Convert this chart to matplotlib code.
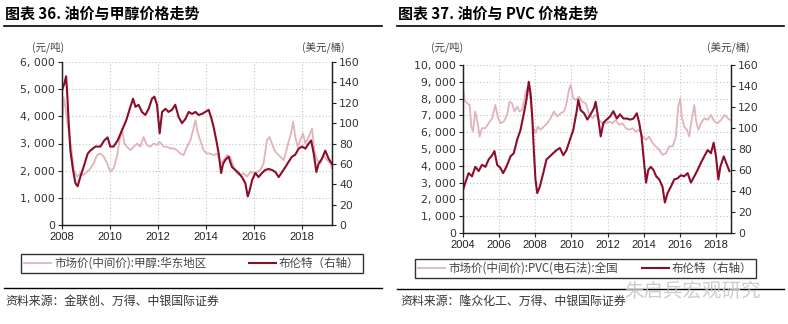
import matplotlib
matplotlib.use("Agg")
import matplotlib.pyplot as plt
from matplotlib.lines import Line2D

plt.rcParams['font.family'] = ['Noto Sans CJK SC', 'DejaVu Sans']

# ---------------- data: chart 36 (methanol vs Brent) ----------------
m_brent_t = [2008.00, 2008.10, 2008.17, 2008.21, 2008.28, 2008.35, 2008.46, 2008.56, 2008.65, 2008.76,
             2008.90, 2009.07, 2009.18, 2009.39, 2009.60, 2009.76, 2009.90, 2010.01, 2010.15, 2010.32,
             2010.50, 2010.68, 2010.85, 2010.96, 2011.06, 2011.19, 2011.33, 2011.47, 2011.61, 2011.75,
             2011.85, 2011.96, 2012.07, 2012.17, 2012.31, 2012.44, 2012.58, 2012.72, 2012.86, 2013.00,
             2013.14, 2013.28, 2013.42, 2013.56, 2013.69, 2013.83, 2013.97, 2014.11, 2014.21, 2014.32,
             2014.43, 2014.53, 2014.63, 2014.71, 2014.81, 2014.94, 2015.08, 2015.22, 2015.36, 2015.50,
             2015.64, 2015.74, 2015.82, 2015.92, 2016.06, 2016.19, 2016.33, 2016.47, 2016.61, 2016.75,
             2016.89, 2017.03, 2017.17, 2017.31, 2017.44, 2017.58, 2017.72, 2017.86, 2018.00, 2018.14,
             2018.28, 2018.38, 2018.49, 2018.60, 2018.69, 2018.83, 2018.97, 2019.11, 2019.25]
m_brent_v = [132, 139, 146, 132, 100, 73, 54, 41, 38, 47,
             57, 70, 73, 77, 77, 83, 86, 77, 77, 83,
             93, 103, 116, 124, 116, 118, 111, 108, 114, 124,
             126, 118, 90, 111, 114, 111, 113, 118, 106, 100,
             104, 111, 109, 111, 108, 109, 111, 113, 106, 96,
             83, 70, 51, 60, 64, 67, 57, 54, 51, 47,
             41, 28, 34, 44, 51, 47, 51, 54, 55, 54,
             52, 47, 52, 57, 62, 67, 69, 75, 77, 75,
             80, 83, 70, 52, 60, 65, 73, 65, 60]

meth_t = [2008.00, 2008.07, 2008.14, 2008.21, 2008.28, 2008.38, 2008.49, 2008.63, 2008.76, 2008.90,
          2009.04, 2009.18, 2009.32, 2009.46, 2009.60, 2009.74, 2009.88, 2010.01, 2010.15, 2010.29,
          2010.40, 2010.50, 2010.60, 2010.71, 2010.85, 2010.99, 2011.13, 2011.26, 2011.40, 2011.54,
          2011.68, 2011.82, 2011.96, 2012.07, 2012.24, 2012.38, 2012.51, 2012.65, 2012.79, 2012.93,
          2013.07, 2013.21, 2013.35, 2013.46, 2013.56, 2013.65, 2013.76, 2013.90, 2014.04, 2014.18,
          2014.32, 2014.46, 2014.60, 2014.74, 2014.88, 2015.01, 2015.15, 2015.29, 2015.43, 2015.57,
          2015.71, 2015.85, 2015.99, 2016.13, 2016.26, 2016.40, 2016.54, 2016.65, 2016.75, 2016.85,
          2016.96, 2017.10, 2017.24, 2017.35, 2017.46, 2017.54, 2017.63, 2017.72, 2017.82, 2017.93,
          2018.04, 2018.14, 2018.28, 2018.42, 2018.51, 2018.63, 2018.76, 2018.90, 2019.04, 2019.18,
          2019.25]
meth_v = [3670, 4700, 4350, 3860, 3430, 2880, 2020, 1780, 1900, 1840,
          1960, 2080, 2270, 2570, 2630, 2510, 2270, 1960, 2080, 2510,
          3120, 3550, 3000, 2880, 2750, 2880, 3000, 2880, 3240, 2940,
          2880, 3000, 2940, 3060, 2880, 2880, 2820, 2820, 2750, 2630,
          2570, 2880, 3120, 3490, 3860, 3430, 3120, 2750, 2630, 2630,
          2570, 2630, 2270, 2390, 2570, 2510, 2140, 1900, 1840, 1900,
          1780, 1960, 1900, 1960, 2020, 2270, 3120, 3240, 3000, 2750,
          2630, 2510, 2390, 2750, 3120, 3370, 3800, 3240, 2880, 3120,
          3370, 3000, 3240, 3550, 2750, 2390, 2270, 2570, 2390, 2270,
          2080]

# ---------------- data: chart 37 (PVC vs Brent) ----------------
p_brent_t = [2004.00, 2004.13, 2004.31, 2004.50, 2004.68, 2004.87, 2005.05, 2005.24, 2005.42, 2005.61,
             2005.74, 2005.89, 2006.07, 2006.22, 2006.40, 2006.63, 2006.81, 2007.00, 2007.18, 2007.37,
             2007.51, 2007.64, 2007.74, 2007.83, 2007.92, 2008.01, 2008.11, 2008.25, 2008.44, 2008.62,
             2008.81, 2008.99, 2009.18, 2009.36, 2009.55, 2009.73, 2009.92, 2010.10, 2010.29, 2010.38,
             2010.51, 2010.70, 2010.88, 2011.06, 2011.25, 2011.34, 2011.47, 2011.62, 2011.77, 2011.95,
             2012.14, 2012.32, 2012.51, 2012.69, 2012.88, 2013.06, 2013.25, 2013.43, 2013.62, 2013.75,
             2013.88, 2014.02, 2014.13, 2014.25, 2014.39, 2014.54, 2014.69, 2014.86, 2015.04, 2015.17,
             2015.32, 2015.50, 2015.69, 2015.87, 2016.06, 2016.24, 2016.43, 2016.61, 2016.80, 2016.98,
             2017.17, 2017.35, 2017.54, 2017.72, 2017.87, 2018.00, 2018.13, 2018.24, 2018.43, 2018.56,
             2018.74]
p_brent_v = [41, 48, 57, 54, 63, 59, 65, 63, 70, 74,
             78, 65, 62, 57, 63, 73, 76, 89, 98, 114,
             127, 144, 133, 111, 79, 51, 38, 44, 57, 70,
             73, 76, 79, 81, 74, 79, 89, 98, 116, 127,
             117, 114, 108, 113, 119, 125, 111, 92, 105, 108,
             111, 116, 109, 113, 109, 109, 108, 109, 114, 105,
             92, 67, 48, 60, 63, 60, 54, 51, 44, 29,
             38, 44, 51, 52, 55, 54, 57, 48, 54, 60,
             67, 73, 79, 76, 86, 73, 51, 63, 73, 67,
             59]

pvc_t = [2004.00, 2004.09, 2004.22, 2004.37, 2004.46, 2004.55, 2004.68, 2004.81, 2004.92, 2005.05,
         2005.24, 2005.42, 2005.61, 2005.79, 2005.92, 2006.07, 2006.26, 2006.44, 2006.57, 2006.72,
         2006.85, 2007.00, 2007.14, 2007.27, 2007.46, 2007.59, 2007.74, 2007.88, 2008.01, 2008.14,
         2008.29, 2008.48, 2008.66, 2008.85, 2009.03, 2009.22, 2009.40, 2009.59, 2009.73, 2009.86,
         2009.96, 2010.10, 2010.23, 2010.42, 2010.60, 2010.79, 2010.97, 2011.16, 2011.34, 2011.53,
         2011.71, 2011.90, 2012.08, 2012.27, 2012.45, 2012.64, 2012.82, 2013.01, 2013.19, 2013.38,
         2013.56, 2013.75, 2013.93, 2014.12, 2014.30, 2014.49, 2014.67, 2014.86, 2015.04, 2015.23,
         2015.41, 2015.60, 2015.78, 2015.91, 2016.02, 2016.10, 2016.24, 2016.39, 2016.52, 2016.65,
         2016.80, 2016.89, 2017.02, 2017.17, 2017.35, 2017.54, 2017.72, 2017.91, 2018.09, 2018.28,
         2018.46, 2018.65, 2018.78]
pvc_v = [8710, 7920, 7720, 7620, 6340, 6040, 7230, 6530, 5740, 6240,
         6240, 6530, 6830, 7620, 6930, 6530, 6630, 7030, 7820, 7720,
         7230, 7520, 7230, 7330, 8320, 8710, 7920, 6340, 5940, 6340,
         6140, 6340, 6530, 6830, 7230, 6930, 7130, 7230, 7720, 8510,
         8810, 8020, 7920, 8120, 7820, 7720, 7130, 6830, 7030, 6730,
         6530, 6530, 6630, 6530, 6730, 6440, 6530, 6240, 6140, 6240,
         6040, 6140, 5740, 5540, 5740, 5350, 5150, 4950, 4650, 4750,
         5150, 5150, 5740, 7520, 8020, 6930, 6340, 6140, 5740, 6730,
         7620, 6730, 6140, 6530, 6830, 6730, 7030, 6630, 6530, 6730,
         7030, 6830, 6730]

m_xticks = [2008, 2010, 2012, 2014, 2016, 2018]
p_xticks = [2004, 2006, 2008, 2010, 2012, 2014, 2016, 2018]

PINK = '#E2B3B8'
DARK = '#8C0D2A'
GRID = '#C4C4C4'

W, H = 788, 324
fig = plt.figure(figsize=(W / 100, H / 100), dpi=100)


def fx(px):
    return px / W


def fy(py):
    return 1 - py / H


def make_panel(left, top, right, bottom, t1, v1, t2, v2, xticks, xlim, ymax1, ystep1, label1):
    ax = fig.add_axes([fx(left), fy(bottom), fx(right - left), fy(top) - fy(bottom)])
    ax2 = ax.twinx()
    ax.plot(t1, v1, color=PINK, lw=1.3, label=label1)
    ax2.plot(t2, v2, color=DARK, lw=1.5, label='布伦特（右轴）')
    ax.set_xlim(*xlim)
    ax.set_ylim(0, ymax1)
    ax2.set_ylim(0, 160)
    yt = list(range(0, ymax1 + 1, ystep1))
    ax.set_yticks(yt)
    ax.set_yticklabels([f'{v:,}'.replace(',', ', ') for v in yt], family='DejaVu Sans')
    ax2.set_yticks(range(0, 161, 20))
    ax2.set_yticklabels([str(v) for v in range(0, 161, 20)], family='DejaVu Sans')
    ax.set_xticks(xticks)
    ax.set_xticklabels([str(x) for x in xticks], family='Liberation Sans', fontsize=8)
    ax.grid(True, color=GRID, ls=(0, (1, 2)), lw=0.8)
    for a in (ax, ax2):
        a.spines['top'].set_visible(False)
        for s in ('left', 'right', 'bottom'):
            a.spines[s].set_color('#222222')
            a.spines[s].set_linewidth(0.9)
        a.tick_params(colors='#222222', length=3, width=0.8, pad=2)
        a.tick_params(axis='y', labelsize=7.8, labelcolor='#333333')
    ax.tick_params(axis='x', labelcolor='#222222')
    return ax, ax2


# ---- panel 36 ----
ax_a, ax_a2 = make_panel(62, 62, 332, 225, meth_t, meth_v, m_brent_t, m_brent_v,
                         m_xticks, (2008, 2019.25), 6000, 1000, '市场价(中间价):甲醇:华东地区')
# ---- panel 37 ----
ax_b, ax_b2 = make_panel(463, 65, 731, 233, pvc_t, pvc_v, p_brent_t, p_brent_v,
                         p_xticks, (2004, 2018.83), 10000, 1000, '市场价(中间价):PVC(电石法):全国')

# titles
fig.text(fx(5), fy(14), '图表 36. 油价与甲醇价格走势', fontsize=10.8, fontweight='bold', va='center', ha='left')
fig.text(fx(398), fy(14), '图表 37. 油价与 PVC 价格走势', fontsize=10.8, fontweight='bold', va='center', ha='left')
fig.add_artist(Line2D([fx(4), fx(382)], [fy(26), fy(26)], color='black', lw=1.2))
fig.add_artist(Line2D([fx(397), fx(784)], [fy(26), fy(26)], color='black', lw=1.2))

# unit labels
for x, s in [(48, '(元/吨)'), (323, '(美元/桶)'), (447, '(元/吨)'), (728, '(美元/桶)')]:
    fig.text(fx(x), fy(47), s, fontsize=7.6, ha='center', va='center', color='#444444')

# legends (boxes stretched to the reference frame extents)
for axp, axs, l, t, r, b in [(ax_a, ax_a2, 21, 254, 363, 273), (ax_b, ax_b2, 415, 258, 756, 279)]:
    h1, l1 = axp.get_legend_handles_labels()
    h2, l2 = axs.get_legend_handles_labels()
    leg = fig.legend(h1 + h2, l1 + l2, loc='center', mode='expand',
                     bbox_to_anchor=(fx(l), fy(b), fx(r - l), fy(t) - fy(b)),
                     ncol=2, fontsize=8.3, frameon=True, fancybox=False, handlelength=2.3,
                     handletextpad=0.3, borderpad=0.3, borderaxespad=0,
                     labelcolor='#444444')
    leg.get_frame().set_edgecolor('black')
    leg.get_frame().set_linewidth(1.0)

# bottom rules and sources
fig.add_artist(Line2D([fx(4), fx(382)], [fy(288), fy(288)], color='black', lw=1.0))
fig.add_artist(Line2D([fx(397), fx(784)], [fy(289), fy(289)], color='black', lw=1.0))
fig.text(fx(5), fy(301), '资料来源：金联创、万得、中银国际证券', fontsize=8.6, ha='left', va='center',
         color='#333333', style='italic')
fig.text(fx(400), fy(301), '资料来源：隆众化工、万得、中银国际证券', fontsize=8.6, ha='left', va='center',
         color='#333333', style='italic')

# watermark
fig.text(fx(624), fy(291), '朱启兵宏观研究', fontsize=14, ha='left', va='center',
         color='#C4C4C4', alpha=0.85)

fig.savefig('out.png', dpi=100)
